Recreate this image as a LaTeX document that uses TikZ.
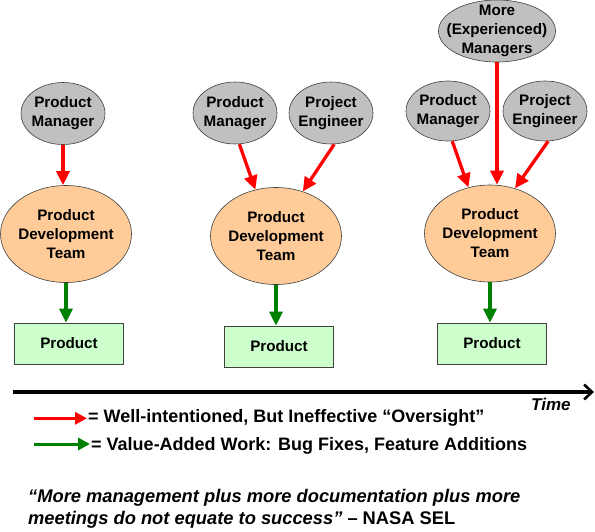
\documentclass[tikz,border=0pt]{standalone}
\usepackage{fontspec}
\setmainfont{Liberation Sans}
\usetikzlibrary{shapes.geometric,arrows.meta}
\definecolor{mgray}{HTML}{C0C0C0}
\definecolor{peach}{HTML}{FFCC99}
\definecolor{mint}{HTML}{CCFFCC}
\definecolor{bord}{HTML}{404040}
\definecolor{okgreen}{HTML}{008000}
\tikzset{
  ntext/.style={align=center, inner sep=0pt, font=\fontsize{15.2}{19}\selectfont\bfseries},
  mgr/.style={ellipse, draw=bord, line width=0.6pt, fill=mgray, inner sep=0pt,
    minimum width=84pt, minimum height=62pt},
  team/.style={ellipse, draw=bord, line width=0.6pt, fill=peach, inner sep=0pt,
    minimum width=131pt, minimum height=97pt},
  prod/.style={rectangle, draw=bord, line width=0.6pt, fill=mint, inner sep=0pt,
    minimum width=109pt, minimum height=41pt,
    font=\fontsize{15.2}{19}\selectfont\bfseries},
  over/.style={draw=red, line width=3.3pt, -{Triangle[length=14pt,width=13pt]}},
  work/.style={draw=okgreen, line width=3.3pt, -{Triangle[length=14pt,width=13pt]}},
  legtxt/.style={anchor=base west, inner sep=0pt, font=\fontsize{18}{21}\selectfont\bfseries},
  quote/.style={anchor=base west, inner sep=0pt, align=left,
    font=\fontsize{18.3}{21.5}\selectfont\bfseries}
}
\begin{document}
\begin{tikzpicture}[x=1pt,y=-1pt]
\useasboundingbox (0,0) rectangle (595,531);
% column 1
\node[mgr, label={[ntext]center:Product\\Manager}] (pm1) at (63,113.5) {};
\node[team, label={[ntext]center:Product\\Development\\Team}] (pdt1) at (66,234) {};
\node[prod] (pr1) at (69,343.5) {Product};
\draw[over] (pm1.south) -- (pm1.south |- pdt1.north);
\draw[work] (pdt1.south) -- (pdt1.south |- pr1.north);
% column 2
\node[mgr, label={[ntext]center:Product\\Manager}] (pm2) at (235,113) {};
\node[mgr, label={[ntext]center:Project\\Engineer}] (pe2) at (331,113) {};
\node[team, label={[ntext]center:Product\\Development\\Team}] (pdt2) at (276,236) {};
\node[prod] (pr2) at (279,346.5) {Product};
\draw[over] (pm2.-82) -- (pdt2.114);
\draw[over] (pe2.-84) -- (pdt2.59);
\draw[work] (pdt2.south) -- (pdt2.south |- pr2.north);
% column 3
\node[mgr, minimum width=117pt, label={[ntext]center:More\\(Experienced)\\Managers}] (more) at (497,31) {};
\node[mgr, minimum height=60pt, label={[ntext]center:Product\\Manager}] (pm3) at (448,111) {};
\node[mgr, minimum height=60pt, label={[ntext]center:Project\\Engineer}] (pe3) at (545,111) {};
\node[team, label={[ntext]center:Product\\Development\\Team}] (pdt3) at (490,233.5) {};
\node[prod] (pr3) at (492,343.5) {Product};
\draw[over] (more.south) -- (more.south |- pdt3.north);
\draw[over] (pm3.-82) -- (pdt3.115);
\draw[over] (pe3.-84) -- (pdt3.61);
\draw[work] (pdt3.south) -- (pdt3.south |- pr3.north);
% time axis
\coordinate (t0) at (13,392);
\coordinate (t1) at (594,392);
\draw[line width=3.2pt, -{Straight Barb[length=8pt,width=15pt,line width=2.6pt]}] (t0) -- (t1);
\node[anchor=base west, inner sep=0pt, font=\fontsize{17}{20}\selectfont\bfseries\itshape] (time) at (531,410) {Time};
% legend
\node[legtxt] (l1) at (88,422) {= Well-intentioned, But Ineffective “Oversight”};
\node[legtxt] (l2) at (91,450) {= Value-Added Work: Bug Fixes, Feature Additions};
\coordinate (a1) at (34,418.3);
\coordinate (a2) at (34,444);
\coordinate (b1) at (87,418.3);
\coordinate (b2) at (90,444);
\draw[draw=red, line width=3pt, -{Triangle[length=12pt,width=12pt]}] (a1) -- (b1);
\draw[draw=okgreen, line width=3pt, -{Triangle[length=12pt,width=12pt]}] (a2) -- (b2);
% quote (base anchor = baseline of last line)
\node[quote] (q) at (28,524) {\itshape “More management plus more documentation plus more\\\itshape meetings do not equate to success” \upshape– NASA SEL};
\end{tikzpicture}
\end{document}
